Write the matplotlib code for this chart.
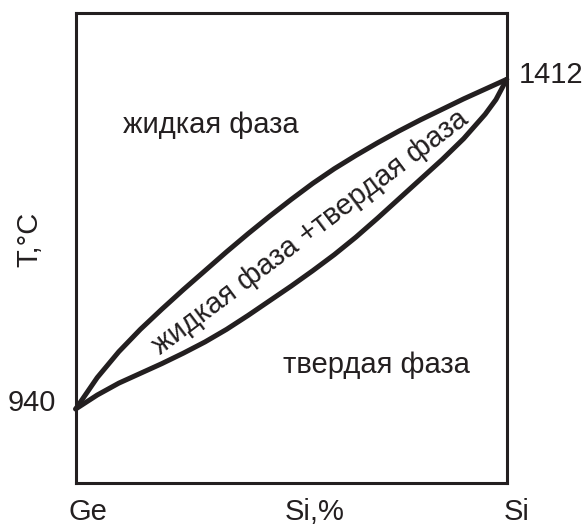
import matplotlib
matplotlib.use("Agg")
import matplotlib.pyplot as plt
import matplotlib.transforms as mtransforms

# Ge-Si phase diagram: liquidus (upper) and solidus (lower) curves
liquidus_si = [0, 5, 10, 15, 20, 25, 30, 35, 40, 45, 50, 55, 60, 65, 70, 75, 80, 85, 90, 95, 100]
liquidus_t = [940, 985, 1022, 1054, 1083, 1111, 1138, 1165, 1191, 1216, 1240,
              1263, 1284, 1303, 1321, 1338, 1354, 1369, 1384, 1398, 1412]

solidus_si = [0, 5, 10, 15, 20, 25, 30, 35, 40, 45, 50, 55, 60, 65, 70, 75, 80, 85, 90, 95, 97.5, 100]
solidus_t = [940, 960, 977, 991, 1005, 1020, 1036, 1054, 1074, 1095, 1116,
             1138, 1161, 1186, 1213, 1241, 1269, 1297, 1327, 1362, 1383, 1412]

t_ge = 940
t_si = 1412
bottom_labels = ["Ge", "Si,%", "Si"]

ink = "#231f20"
plt.rcParams["font.family"] = ["Liberation Sans", "DejaVu Sans"]
fs = 21

fig = plt.figure(figsize=(5.86, 5.28), dpi=100)
ax = fig.add_axes([0.1292, 0.0852, 0.7355, 0.8902])
ax.set_xlim(0, 100)
ax.set_ylim(834, 1507)
ax.set_xticks([])
ax.set_yticks([])
for s in ax.spines.values():
    s.set_linewidth(2.2)
    s.set_color(ink)

ax.plot(liquidus_si, liquidus_t, color=ink, lw=3.6, solid_joinstyle="round",
        solid_capstyle="round", clip_on=False)
ax.plot(solidus_si, solidus_t, color=ink, lw=3.6, solid_joinstyle="round",
        solid_capstyle="round", clip_on=False)

# region names
ax.text(11.0, 1335, "жидкая фаза", fontsize=fs, color=ink, ha="left", va="baseline")
ax.text(48.1, 992, "твердая фаза", fontsize=fs, color=ink, ha="left", va="baseline")
ax.text(54.4, 1193, "жидкая фаза +твердая фаза", fontsize=fs, color=ink,
        ha="center", va="center", rotation=37, rotation_mode="anchor")

# melting points
ax.annotate(str(t_ge), xy=(0, t_ge), xytext=(-20, 6), textcoords="offset pixels",
            fontsize=fs, color=ink, ha="right", va="center", annotation_clip=False)
ax.annotate(str(t_si), xy=(100, t_si), xytext=(12, 4), textcoords="offset pixels",
            fontsize=fs, color=ink, ha="left", va="center", annotation_clip=False)

# composition labels under the box
trans = mtransforms.blended_transform_factory(ax.transData, ax.transAxes)
for xpos, lab in zip([2.9, 55.5, 102.4], bottom_labels):
    ax.text(xpos, -0.079, lab, fontsize=fs, color=ink, ha="center", va="baseline",
            transform=trans)

ax.set_ylabel("T,°C", fontsize=fs, color=ink)
ax.yaxis.set_label_coords(-0.108, 0.519)
ax.yaxis.label.set_verticalalignment("center")

fig.savefig("out.png", dpi=100)
